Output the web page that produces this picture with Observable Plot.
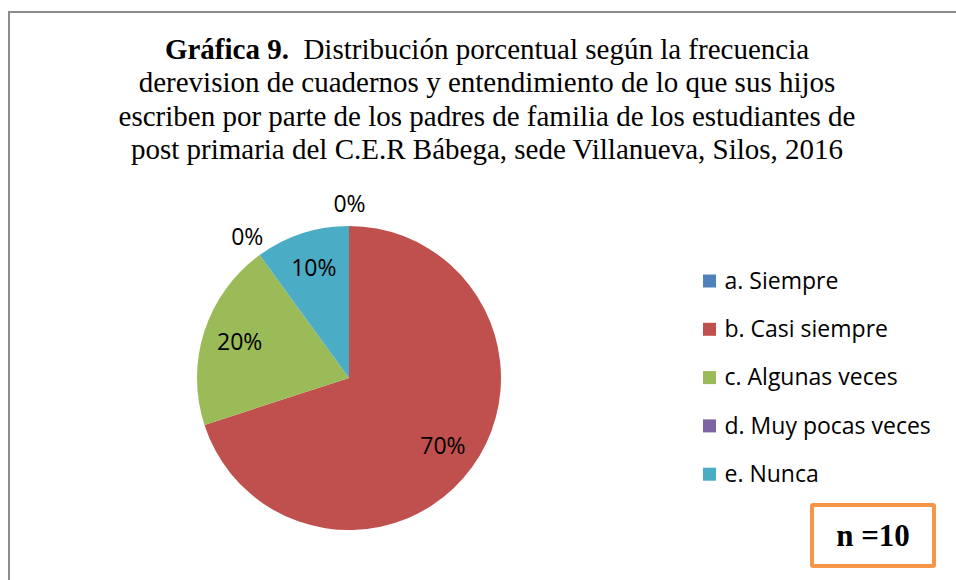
<!DOCTYPE html>
<html>
<head>
<meta charset="utf-8">
<script src="https://cdn.jsdelivr.net/npm/d3@7"></script>
<script src="https://cdn.jsdelivr.net/npm/@observablehq/plot@0.6"></script>
<style>
  html, body { margin: 0; padding: 0; background: #fff; }
  #wrap { position: relative; width: 956px; height: 580px; overflow: hidden; background: #fff; }
  #frame { position: absolute; left: 8px; top: 11px; width: 1000px; height: 1000px;
           border-left: 2px solid #8c8c8c; border-top: 2px solid #8c8c8c; box-sizing: border-box; }
  #title { position: absolute; left: 0; top: 33px; width: 974px; text-align: center;
           font-family: "Liberation Serif", "Times New Roman", serif; font-size: 29px;
           line-height: 33.3px; color: #000; }
  #title b { font-weight: bold; }
  #chart { position: absolute; left: 0; top: 0; }
  #nbox { position: absolute; left: 810px; top: 503px; width: 126px; height: 65px; box-sizing: border-box;
          border: 4px solid #F79646; border-radius: 3px; background: #fff;
          font-family: "Liberation Serif", "Times New Roman", serif; font-weight: bold; font-size: 31px;
          display: flex; align-items: center; justify-content: center; color: #000; }
</style>
</head>
<body>
<div id="wrap">
  <div id="frame"></div>
  <div id="chart"></div>
  <div id="title"><b>Gráfica 9.</b>&nbsp; Distribución porcentual según la frecuencia<br>derevision de cuadernos y entendimiento de lo que sus hijos<br>escriben por parte de los padres de familia de los estudiantes de<br>post primaria del C.E.R Bábega, sede Villanueva, Silos, 2016</div>
  <div id="nbox"></div>
</div>
<script>
const categories = ["a. Siempre", "b. Casi siempre", "c. Algunas veces", "d. Muy pocas veces", "e. Nunca"];
const values = [0, 70, 20, 0, 10];
const percentLabels = ["0%", "70%", "20%", "0%", "10%"];
const colors = ["#4F81BD", "#C0504D", "#9BBB59", "#8064A2", "#4BACC6"];
const sampleSize = 10;

document.getElementById("nbox").textContent = "n =" + sampleSize;

const data = categories.map((c, i) => ({category: c, value: values[i], label: percentLabels[i], i}));

// layout constants
const W = 956, H = 580;
const cx = 349, cy = 378, R = 152;
const legendX = 703, legendY0 = 281, legendStep = 48.3, sq = 13;
const sansFont = "'Open Sans', Lato, sans-serif";

const arcs = d3.pie().sort(null).value(d => d.value)(data);
// label positions from pie geometry
const labelData = arcs.map(a => {
  const mid = (a.startAngle + a.endAngle) / 2;
  const r = a.value === 0 ? R + 22 : R * 0.76;
  return {...a.data, lx: cx + r * Math.sin(mid), ly: cy - r * Math.cos(mid)};
});

const legendData = data.map((d, k) => ({...d, ly: legendY0 + k * legendStep}));

const pieMark = (index, scales) => {
  const g = d3.create("svg:g").attr("transform", `translate(${scales.x(cx)},${scales.y(cy)})`);
  const arcGen = d3.arc().innerRadius(0).outerRadius(R);
  g.selectAll("path")
    .data(arcs.filter(a => a.value > 0))
    .join("path")
    .attr("d", arcGen)
    .attr("fill", a => scales.color(a.data.category));
  return g.node();
};

const plot = Plot.plot({
  width: W,
  height: H,
  margin: 0,
  x: {type: "identity", axis: null},
  y: {type: "identity", axis: null},
  color: {domain: categories, range: colors},
  style: {background: "transparent", overflow: "visible"},
  marks: [
    pieMark,
    Plot.text(labelData, {
      x: "lx", y: "ly", text: "label",
      fontFamily: sansFont, fontSize: 23, fill: "#000"
    }),
    Plot.rect(legendData, {
      x1: () => legendX, x2: () => legendX + sq,
      y1: d => d.ly - sq / 2, y2: d => d.ly + sq / 2,
      fill: "category"
    }),
    Plot.text(legendData, {
      x: () => legendX + sq + 8, y: "ly", text: "category", textAnchor: "start",
      fontFamily: sansFont, fontSize: 23, fill: "#000"
    })
  ]
});
document.getElementById("chart").appendChild(plot);
</script>
</body>
</html>
